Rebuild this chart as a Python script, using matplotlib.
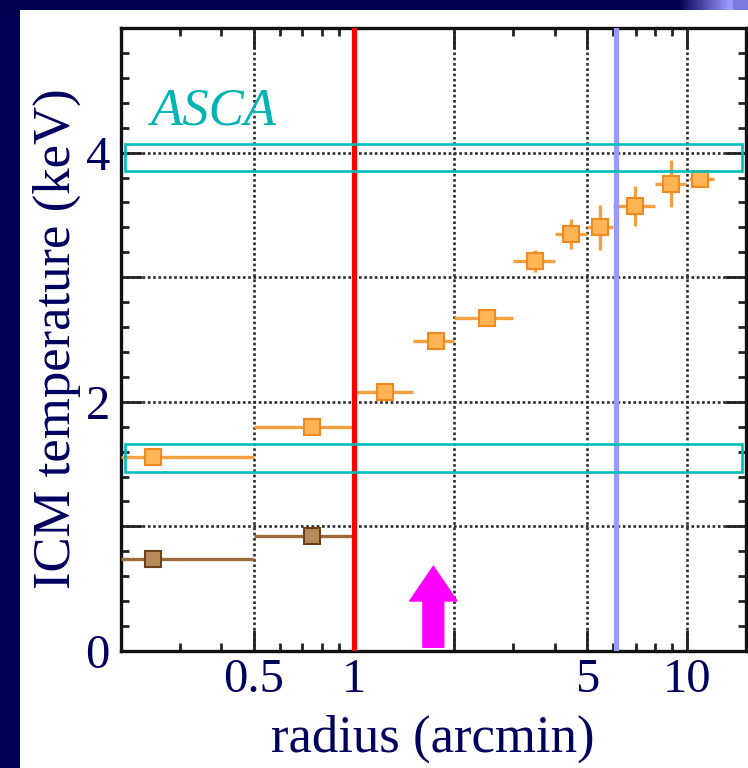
import numpy as np
import matplotlib
matplotlib.use("Agg")
import matplotlib.pyplot as plt
from matplotlib.patches import Rectangle
import matplotlib.transforms as mtransforms

# ---------------- data ----------------
orange_r = [0.25, 0.75, 1.24, 1.76, 2.5, 3.5, 4.47, 5.46, 6.95, 8.96, 10.94]
orange_r_lo = [0.2, 0.5, 1.0, 1.5, 2.0, 3.0, 4.0, 5.0, 6.0, 8.0, 10.1]
orange_r_hi = [0.5, 1.0, 1.5, 2.0, 3.0, 4.0, 5.0, 6.0, 8.0, 9.9, 12.0]
orange_T = [1.56, 1.80, 2.08, 2.49, 2.67, 3.13, 3.35, 3.40, 3.57, 3.75, 3.79]
orange_Terr = [0.02, 0.03, 0.04, 0.05, 0.06, 0.09, 0.12, 0.18, 0.16, 0.19, 0.07]

brown_r = [0.25, 0.75]
brown_r_lo = [0.2, 0.5]
brown_r_hi = [0.5, 1.0]
brown_T = [0.74, 0.92]
brown_Terr = [0.02, 0.03]

asca_bands = [(3.855, 4.07), (1.44, 1.665)]
red_line_r = 1.0
blue_line_r = 6.13
arrow_r = 1.73
arrow_T = (0.03, 0.68)

xticks_major = [0.5, 1, 2, 5, 10]
xtick_labels = ["0.5", "1", "", "5", "10"]
yticks_major = [0, 1, 2, 3, 4, 5]
ytick_labels = ["0", "", "2", "", "4", ""]

NAVY = "#00005e"

# ---------------- figure ----------------
W, H = 748, 768
fig = plt.figure(figsize=(W / 100, H / 100), dpi=100, facecolor="#000055")

# white slide panel
fig.patches.append(Rectangle((20 / W, 0), 1 - 20 / W, 1 - 10 / H, transform=fig.transFigure,
                             facecolor="white", edgecolor="none", zorder=-5))
# top-right gradient strip
gax = fig.add_axes([0, 1 - 10 / H, 1, 10 / H])
gax.set_axis_off()
xs = np.linspace(0, W, 300)
c0 = np.array([0, 0, 0x50]) / 255
c1 = np.array([0x99, 0x99, 0xff]) / 255
t = np.clip((xs - 680) / 50, 0, 1)
t = np.where(xs > 735, 0.8, t)
grad = c0[None, :] * (1 - t[:, None]) + c1[None, :] * t[:, None]
gax.imshow(grad[None, :, :], aspect="auto", extent=[0, 1, 0, 1])
gax.set_xlim(0, 1)

ax = fig.add_axes([121 / W, 1 - 651 / H, (746 - 121) / W, (651 - 28) / H])
ax.set_zorder(2)
ax.set_xscale("log")
ax.set_xlim(0.2, 15)
ax.set_ylim(0, 5)

font = "Liberation Serif"
plt.rcParams["font.family"] = font

ax.set_xticks(xticks_major)
ax.set_xticklabels(xtick_labels)
ax.set_xticks([0.3, 0.4, 0.6, 0.7, 0.8, 0.9, 3, 4, 6, 7, 8, 9], minor=True)
ax.xaxis.set_minor_formatter(matplotlib.ticker.NullFormatter())
ax.set_yticks(yticks_major)
ax.set_yticklabels(ytick_labels)
ax.set_yticks(np.arange(0, 5.01, 0.2), minor=True)

ax.tick_params(which="both", direction="in", top=True, right=True, colors="#222222",
               labelcolor=NAVY, labelsize=35, width=2.0)
ax.tick_params(which="major", length=15)
ax.tick_params(which="minor", length=6)
ax.tick_params(axis="x", pad=5)
ax.tick_params(axis="y", pad=8)
for lab in ax.get_xticklabels() + ax.get_yticklabels():
    lab.set_fontfamily(font)

for sp in ax.spines.values():
    sp.set_linewidth(2.4)
    sp.set_color("#111111")

ax.grid(True, which="major", linestyle=(0, (1.0, 1.0)), color="#2a2a2a", linewidth=1.9)

# data
def plot_series(r, lo, hi, T, Terr, mfc, mec, ec):
    r = np.array(r); lo = np.array(lo); hi = np.array(hi)
    ax.errorbar(r, T, xerr=[r - lo, hi - r], yerr=Terr, fmt="s", ms=11,
                mfc=mfc, mec=mec, mew=1.5, ecolor=ec, elinewidth=2.4, capsize=0, zorder=4)

plot_series(orange_r, orange_r_lo, orange_r_hi, orange_T, orange_Terr,
            "#ffb455", "#f08a20", "#f5a040")
plot_series(brown_r, brown_r_lo, brown_r_hi, brown_T, brown_Terr,
            "#b88a5a", "#6e4218", "#9a6a3a")

# vertical lines
ax.axvline(red_line_r, color="#ff0000", linewidth=3.8, zorder=5)
ax.axvline(blue_line_r, color="#9999ff", linewidth=3.8, zorder=5)

# ASCA boxes
trans = mtransforms.blended_transform_factory(ax.transAxes, ax.transData)
for (y0, y1) in asca_bands:
    ax.add_patch(Rectangle((0.0064, y0), 0.9872, y1 - y0, transform=trans,
                           fill=False, edgecolor="#00bcbc", linewidth=1.9, zorder=6))

ax.text(0.048, 0.845, "ASCA", transform=ax.transAxes, color="#00b4b4",
        fontsize=38, fontstyle="italic", family=font, va="baseline", ha="left")

# magenta arrow
ax.annotate("", xy=(arrow_r, arrow_T[1]), xytext=(arrow_r, arrow_T[0]),
            arrowprops=dict(arrowstyle="simple,head_length=2.5,head_width=3.4,tail_width=1.5",
                            color="#ff00ff", shrinkA=0, shrinkB=0, mutation_scale=10),
            zorder=7)

# axis labels
fig.text(433 / W, 1 - 752 / H, "radius (arcmin)", color=NAVY, fontsize=38, family=font,
         ha="center", va="baseline")
fig.text(70 / W, 1 - 339 / H, "ICM temperature (keV)", color=NAVY, fontsize=38, family=font,
         ha="center", va="baseline", rotation=90, rotation_mode="anchor")

fig.savefig("out.png", dpi=100, facecolor=fig.get_facecolor())
